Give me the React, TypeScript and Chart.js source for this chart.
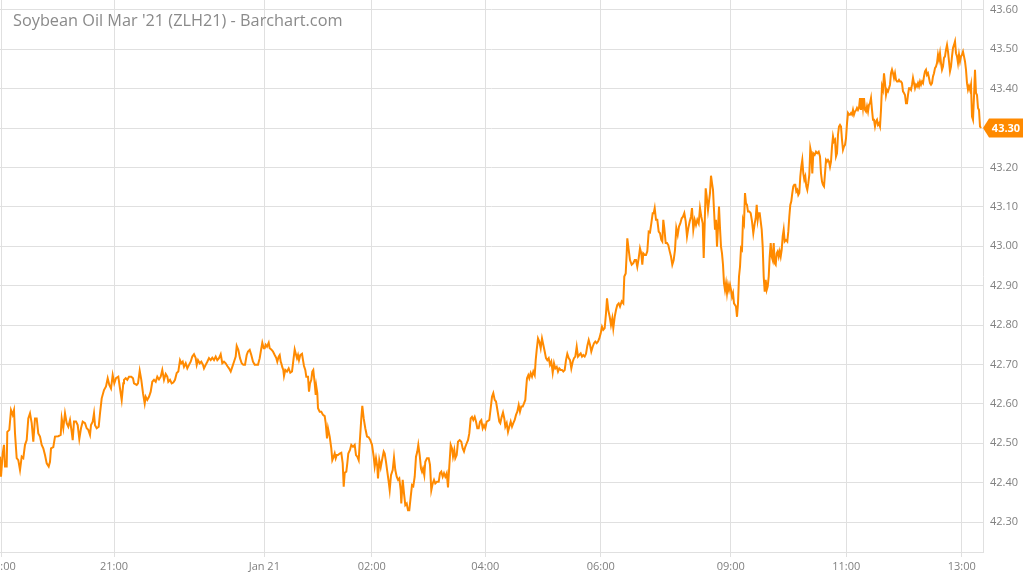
import { useEffect, useRef } from "react";
import { Chart, registerables } from "chart.js";

Chart.register(...registerables);

const chartTitle = "Soybean Oil Mar '21 (ZLH21) - Barchart.com";

// bar position of each trade bar (trading-session bar index, gaps compressed)
const barIndex: number[] = [
  0, 1, 2.7, 4, 5, 6.7, 7.3, 9.3, 11, 12.7, 14, 15, 16.7, 18.3, 20, 21.7, 23.3, 25, 26.7, 28.3,
  30, 31.7, 33.3, 35, 36.7, 38.3, 40, 41.7, 43.3, 45, 46.7, 48.7, 50, 51, 53.3, 55, 58.3, 60.7, 61.7, 63.3,
  65, 66.7, 68.3, 70, 71.7, 72.7, 74, 76, 77.7, 79.3, 81, 82.7, 85, 86.7, 88.3, 90, 91, 92.7, 94, 95,
  96.7, 98.7, 100, 101.7, 104, 106, 107.7, 109.3, 111, 112.7, 114.3, 116, 118.3, 120, 121.7, 123.3,
  124, 125.7, 127.3, 129, 131.3, 133, 134, 136.7, 138, 139.7, 141.3, 143, 144.7, 145.7, 147.3, 149, 150.7, 152.3, 154, 155.7,
  157.3, 159, 160.7, 162.3, 164, 165.7, 167.3, 168.3, 170, 171.7, 173.3, 175, 176.7, 178.3, 180, 181.3, 182.7, 184, 185.7, 187.3,
  189, 190.7, 192.3, 194, 195.7, 196.7, 198, 199.7, 201.3, 203, 204, 205.7, 207.3, 209, 210.7, 212.3, 214, 215.7, 217.3, 219,
  220.7, 222.3, 224, 225.7, 227.3, 229, 230.7, 232.3, 234, 235.7, 236.7, 238.3, 240, 241.7, 243.3, 245, 246.7,
  248, 249.7, 251.3, 253, 254.7, 256.3, 258, 259.7, 261.3, 262.3, 263.7, 264.7, 265.7, 267, 268.7, 269.7, 271.3, 273, 274.7, 276.3,
  277.3, 278.7, 279.7, 280.7, 281.3, 282.3, 283.3, 284, 285.3, 287, 288.7, 290.3, 292, 293, 294.7, 295.7, 297, 298, 299, 300.3,
  302, 303, 304, 305.3, 306.3, 308, 309, 310, 311.3, 312.3, 313.3, 314.7, 315.7, 316.3, 317.3, 318, 319.7, 321.3, 323, 324.7,
  325.7, 327, 328, 329.7, 331.3, 332.3, 333.7, 334.7, 335.7, 336.7, 338, 339.7, 341.3, 342.7, 343.7, 344.7, 346.3, 347.3, 348.3, 350,
  351.3, 353, 354.7, 356, 357.3, 358.7, 359.7, 361.3, 362.3, 363.7, 365.3, 367, 368.7, 370.3,
  372, 373.7, 374.7, 376, 377.3, 378, 379.3, 380.7, 382, 383.7, 384.7, 386, 387.3, 388.7, 389.7, 391, 392.7, 394, 395.3, 396.7,
  398, 399.3, 400.7, 401.3, 402.7, 404, 405.3, 406.7, 408, 409.3, 410.7, 412, 413.3, 414.7, 416, 417.3, 418.3, 419.7, 421, 422,
  423, 424.3, 425.3, 427, 428.7, 430, 431.3, 432.7, 434, 435.3, 437, 438.7, 440, 441.3, 442.7, 444, 445.3, 446.7, 448, 449.3,
  450.7, 452, 453, 454.3, 455.3, 456.7, 458, 459.7, 461.3, 462.7, 464, 465.3, 466.7, 468, 469.3, 470.7, 472, 473.3, 474.7, 476,
  477.3, 478.7, 480, 481.3, 482.7, 484, 485.3, 486.7, 488, 489.3, 490.7, 492, 493.3, 494.7,
  496, 497.7, 499.3, 500.3, 501.7, 503, 504.3, 505.3, 506.7, 508, 509.3, 510.7, 512, 513.3, 514.7, 516, 517.3, 518.7, 520, 521.3,
  522.7, 524, 525.3, 526, 527, 528.3, 529.3, 530.7, 532, 533.3, 534.7, 535.7, 536.7, 538, 539.3, 540.7, 542, 543.3, 544.7, 546,
  547.3, 548.7, 550, 551.3, 552.7, 554, 555.3, 556.7, 558, 559.3, 560.7, 562, 563.3, 564.7, 566, 567.3, 568.7, 570, 571.3, 572.7,
  574, 575.3, 576.7, 578, 579.3, 580.7, 582, 583.3, 584.7, 586, 587.3, 588.7, 590, 591.3, 592.7, 594, 595.3, 596.7, 598, 599.3,
  600.7, 602, 603.3, 604.7, 606, 607, 608.3, 609.7, 611, 612.3, 613.3, 614.7, 616, 617.3, 618.7,
  620, 621.7, 623.3, 624.3, 625.7, 626.7, 627.3, 628.7, 630, 631.7, 633.3, 634.7, 636, 637.3, 638.7, 640, 641.3, 642.3, 643.3, 644.7,
  646, 647.3, 648.7, 650, 651.3, 652.7, 653.7, 654.7, 656, 657.3, 658.7, 660, 661.3, 662.3, 663.3, 664.3, 665.7, 667, 668.3, 669.7,
  671, 672.3, 673.7, 675, 676.3, 677.7, 679, 680.3, 681.7, 683, 684.3, 685.7, 687, 688.3, 689.7, 691, 692, 693.3, 694.7, 696,
  697.3, 698.7, 700, 701.3, 702.7, 703.7, 704.7, 705.7, 706.7, 708, 709, 710, 711, 712, 713, 714, 715, 716, 717, 718,
  719, 720, 721, 722, 723, 724, 725, 726, 727, 728, 729, 730, 731, 732, 733, 734, 735, 736, 737, 738,
  739, 740, 741, 742, 743,
  744, 745, 746, 747, 748, 749.3, 750.7, 752, 753.3, 754.7, 755.7, 756.7, 757.7, 758.7, 759.7, 760.7, 761.7, 762.7, 763.7, 764.7,
  765.7, 766.7, 767.7, 768.7, 769.7, 770.7, 771.7, 772.7, 773.7, 774.7, 775.7, 776.7, 777.7, 778.7, 779.7, 780.7, 781.7, 782.7, 783.7, 784.7,
  786, 787.3, 788.3, 789.3, 790.3, 791.3, 792.3, 793.3, 794.3, 795.3, 796.3, 797.3, 798.3, 799.3, 800.3, 801.3, 802.3, 803.3, 804.3, 805.3,
  806.3, 807.3, 808.3, 809.3, 810.3, 811.3, 812.3, 813.3, 814.7, 816, 817.3, 818.7, 820, 821, 822, 823, 824, 825, 826, 827,
  828, 829, 830, 831, 832, 833, 834, 835, 836, 837, 838, 839, 840, 841, 842, 843, 844, 845, 846, 847,
  848, 849, 850, 851, 852, 853, 854, 855, 856, 857, 858, 859,
  860, 861, 862, 863, 864, 865, 866, 867, 868, 869, 870, 871, 872, 873, 874, 875, 876, 877, 878, 879,
  880, 881, 882, 883, 884, 885, 886, 887, 888, 889, 890, 891, 892, 893, 894, 895, 896, 897, 898, 899,
  900, 901, 902, 903, 904, 905, 906, 907, 908, 909, 910, 911, 912, 913, 914, 915, 916, 917, 918, 919,
  920, 921, 922, 923, 924, 925, 926, 927, 928, 929, 930, 931, 932, 933, 934, 935, 936, 937, 938, 939,
  940, 941, 942, 943, 944, 945, 946, 947, 948, 949, 950, 951, 952, 953, 954, 955, 956, 957, 958, 959,
  960, 961, 962, 963, 964, 965, 966, 967, 968, 969, 970, 971, 972, 973, 974, 975, 976, 977, 978, 979,
  980, 981,
];

// price of each bar (cents per pound)
const price: number[] = [
  42.466, 42.415, 42.474, 42.496, 42.441, 42.441, 42.529, 42.534, 42.584, 42.572, 42.584, 42.525, 42.462, 42.457, 42.432, 42.466, 42.462, 42.496, 42.508, 42.563,
  42.576, 42.551, 42.504, 42.563, 42.563, 42.525, 42.517, 42.496, 42.487, 42.470, 42.449, 42.441, 42.453, 42.487, 42.490, 42.517, 42.518, 42.521, 42.563, 42.538,
  42.576, 42.551, 42.542, 42.559, 42.529, 42.508, 42.555, 42.555, 42.546, 42.511, 42.538, 42.555, 42.551, 42.538, 42.534, 42.521, 42.546, 42.555, 42.576, 42.546,
  42.538, 42.542, 42.576, 42.614, 42.635, 42.644, 42.665, 42.648, 42.639, 42.673, 42.652, 42.665, 42.669, 42.639, 42.610, 42.652,
  42.661, 42.665, 42.661, 42.669, 42.669, 42.665, 42.652, 42.648, 42.652, 42.684, 42.661, 42.627, 42.601, 42.618, 42.610, 42.618, 42.631, 42.656, 42.661, 42.656,
  42.669, 42.662, 42.669, 42.686, 42.661, 42.676, 42.669, 42.656, 42.661, 42.652, 42.654, 42.661, 42.678, 42.682, 42.711, 42.703, 42.707, 42.694, 42.703, 42.690,
  42.699, 42.707, 42.720, 42.726, 42.716, 42.699, 42.711, 42.703, 42.707, 42.699, 42.690, 42.699, 42.707, 42.716, 42.711, 42.717, 42.711, 42.720, 42.711, 42.716,
  42.726, 42.703, 42.707, 42.703, 42.696, 42.690, 42.682, 42.694, 42.707, 42.720, 42.747, 42.737, 42.716, 42.703, 42.699, 42.699, 42.724,
  42.733, 42.737, 42.724, 42.707, 42.699, 42.699, 42.699, 42.716, 42.741, 42.755, 42.741, 42.741, 42.750, 42.745, 42.755, 42.741, 42.738, 42.733, 42.724, 42.716,
  42.707, 42.720, 42.724, 42.707, 42.703, 42.693, 42.686, 42.671, 42.686, 42.682, 42.690, 42.679, 42.682, 42.703, 42.738, 42.728, 42.716, 42.724, 42.711, 42.724,
  42.727, 42.711, 42.696, 42.686, 42.669, 42.669, 42.631, 42.652, 42.661, 42.682, 42.686, 42.652, 42.623, 42.644, 42.627, 42.589, 42.580, 42.580, 42.572, 42.569,
  42.551, 42.512, 42.538, 42.517, 42.487, 42.457, 42.466, 42.474, 42.462, 42.470, 42.470, 42.474, 42.476, 42.449, 42.390, 42.425, 42.428, 42.449, 42.474, 42.483,
  42.496, 42.491, 42.496, 42.470, 42.466, 42.457, 42.500, 42.563, 42.595, 42.563, 42.538, 42.517, 42.515, 42.508,
  42.496, 42.466, 42.441, 42.462, 42.441, 42.411, 42.457, 42.439, 42.457, 42.479, 42.474, 42.453, 42.428, 42.402, 42.381, 42.419, 42.432, 42.464, 42.432, 42.415,
  42.407, 42.411, 42.381, 42.347, 42.407, 42.373, 42.343, 42.347, 42.330, 42.330, 42.364, 42.394, 42.391, 42.415, 42.466, 42.479, 42.496, 42.470, 42.436, 42.428,
  42.436, 42.419, 42.453, 42.462, 42.462, 42.445, 42.381, 42.398, 42.407, 42.398, 42.402, 42.402, 42.424, 42.428, 42.415, 42.424, 42.415, 42.424, 42.388, 42.441,
  42.496, 42.487, 42.466, 42.483, 42.462, 42.470, 42.504, 42.508, 42.504, 42.487, 42.479, 42.491, 42.500, 42.508, 42.525, 42.563, 42.567, 42.559, 42.567, 42.555,
  42.538, 42.538, 42.555, 42.559, 42.538, 42.546, 42.538, 42.555, 42.557, 42.559, 42.589, 42.618, 42.627, 42.610,
  42.606, 42.580, 42.555, 42.551, 42.567, 42.578, 42.563, 42.542, 42.551, 42.529, 42.542, 42.555, 42.542, 42.551, 42.559, 42.572, 42.580, 42.597, 42.580, 42.593,
  42.593, 42.601, 42.610, 42.635, 42.665, 42.673, 42.665, 42.678, 42.669, 42.682, 42.673, 42.711, 42.737, 42.766, 42.758, 42.741, 42.766, 42.750, 42.733, 42.716,
  42.711, 42.716, 42.699, 42.707, 42.679, 42.703, 42.690, 42.694, 42.682, 42.690, 42.686, 42.686, 42.682, 42.686, 42.711, 42.727, 42.716, 42.711, 42.690, 42.707,
  42.716, 42.720, 42.745, 42.720, 42.724, 42.728, 42.720, 42.724, 42.720, 42.727, 42.747, 42.762, 42.750, 42.733, 42.745, 42.754, 42.758, 42.754, 42.758, 42.766,
  42.779, 42.796, 42.788, 42.792, 42.830, 42.868, 42.838, 42.821, 42.800, 42.817, 42.792, 42.821, 42.838, 42.851, 42.855,
  42.847, 42.860, 42.855, 42.923, 42.931, 42.982, 43.020, 42.991, 42.965, 42.953, 42.957, 42.965, 42.965, 42.948, 42.970, 42.995, 42.982, 42.953, 42.982, 42.978,
  42.978, 42.987, 43.037, 43.035, 43.058, 43.084, 43.084, 43.097, 43.067, 43.067, 43.037, 43.033, 43.016, 43.012, 43.067, 43.046, 43.008, 43.008, 43.003, 42.987,
  42.974, 42.953, 42.965, 42.991, 43.046, 43.029, 43.050, 43.058, 43.071, 43.075, 43.084, 43.063, 43.025, 43.046, 43.063, 43.075, 43.097, 43.042, 43.067, 43.054,
  43.067, 43.058, 43.097, 43.075, 43.058, 42.970, 43.058, 43.147, 43.126, 43.092, 43.114, 43.135, 43.179, 43.160, 43.143, 43.092, 43.042, 43.067, 42.999, 43.046,
  43.101, 43.046, 42.999, 42.982, 42.953, 42.906, 42.889, 42.906, 42.881, 42.902, 42.889, 42.902, 42.889, 42.872, 42.881, 42.855, 42.851, 42.847, 42.821, 42.855,
  42.923, 42.948, 42.995, 42.991, 43.067,
  43.058, 43.135, 43.109, 43.105, 43.088, 43.088, 43.084, 43.063, 43.033, 43.058, 43.071, 43.105, 43.067, 43.084, 43.084, 43.063, 43.042, 42.999, 42.923, 42.885,
  42.915, 42.889, 42.898, 42.923, 42.974, 43.008, 42.974, 42.965, 43.008, 42.957, 42.953, 42.982, 42.987, 42.974, 42.987, 42.974, 42.991, 43.025, 43.042, 43.012,
  43.016, 43.012, 43.037, 43.075, 43.105, 43.114, 43.135, 43.152, 43.156, 43.156, 43.139, 43.143, 43.130, 43.135, 43.177, 43.202, 43.219, 43.185, 43.169, 43.177,
  43.152, 43.143, 43.160, 43.181, 43.249, 43.236, 43.185, 43.236, 43.232, 43.240, 43.236, 43.240, 43.228, 43.185, 43.164, 43.156, 43.152, 43.185, 43.219, 43.215,
  43.219, 43.215, 43.202, 43.215, 43.253, 43.279, 43.266, 43.270, 43.228, 43.236, 43.283, 43.304, 43.308, 43.304, 43.270, 43.245, 43.253, 43.257, 43.274, 43.312,
  43.338, 43.334, 43.334, 43.338, 43.334, 43.346, 43.334, 43.342, 43.345, 43.351, 43.346, 43.351,
  43.376, 43.346, 43.376, 43.351, 43.376, 43.346, 43.342, 43.355, 43.342, 43.359, 43.363, 43.376, 43.346, 43.321, 43.321, 43.304, 43.317, 43.321, 43.308, 43.312,
  43.304, 43.346, 43.406, 43.397, 43.439, 43.414, 43.384, 43.397, 43.393, 43.401, 43.410, 43.439, 43.448, 43.439, 43.427, 43.439, 43.422, 43.418, 43.418, 43.422,
  43.418, 43.418, 43.414, 43.393, 43.389, 43.384, 43.363, 43.363, 43.384, 43.401, 43.401, 43.397, 43.410, 43.427, 43.414, 43.401, 43.410, 43.406, 43.414, 43.406,
  43.418, 43.410, 43.418, 43.414, 43.431, 43.444, 43.448, 43.435, 43.439, 43.427, 43.414, 43.410, 43.414, 43.431, 43.439, 43.452, 43.456, 43.465, 43.486, 43.473,
  43.490, 43.465, 43.448, 43.456, 43.478, 43.482, 43.499, 43.511, 43.494, 43.469, 43.444, 43.456, 43.482, 43.503, 43.511, 43.520, 43.490, 43.482, 43.465, 43.486,
  43.469, 43.482, 43.486, 43.494, 43.482, 43.469, 43.448, 43.414, 43.397, 43.406, 43.397, 43.410, 43.329, 43.321, 43.380, 43.448, 43.389, 43.384, 43.351, 43.346,
  43.304, 43.30,
];

const timeTickBars = [1.7, 114, 264.3, 371.7, 485.3, 600.7, 730.7, 846.3, 961.7];
const timeTickLabels = ["20:00", "21:00", "Jan 21", "02:00", "04:00", "06:00", "09:00", "11:00", "13:00"];
const priceTicks = [42.3, 42.4, 42.5, 42.6, 42.7, 42.8, 42.9, 43.0, 43.1, 43.2, 43.3, 43.4, 43.5, 43.6];
const lastPrice = 43.3;

const ORANGE = "#ff8a00";
const GRID = "#e0e0e0";
const FONT = "'Open Sans', 'Noto Sans', sans-serif";

const lastPriceTag = {
  id: "lastPriceTag",
  afterDraw(chart: any) {
    const { ctx, chartArea, scales } = chart;
    const y = scales.y.getPixelForValue(lastPrice);
    const x0 = chartArea.right;
    const x1 = chart.width - 1;
    ctx.save();
    ctx.fillStyle = ORANGE;
    ctx.beginPath();
    ctx.moveTo(x0, y);
    ctx.lineTo(x0 + 6, y - 9.5);
    ctx.lineTo(x1, y - 9.5);
    ctx.lineTo(x1, y + 9.5);
    ctx.lineTo(x0 + 6, y + 9.5);
    ctx.closePath();
    ctx.fill();
    ctx.fillStyle = "#ffffff";
    ctx.font = `bold 11px ${FONT}`;
    ctx.textAlign = "center";
    ctx.textBaseline = "middle";
    ctx.fillText(lastPrice.toFixed(2), (x0 + 6 + x1) / 2, y + 0.5);
    ctx.restore();
  },
};

export default function App() {
  const ref = useRef<HTMLCanvasElement | null>(null);

  useEffect(() => {
    if (!ref.current) return;
    const chart = new Chart(ref.current, {
      type: "line",
      data: {
        datasets: [
          {
            data: barIndex.map((b, i) => ({ x: b, y: price[i] })),
            borderColor: ORANGE,
            borderWidth: 2,
            pointRadius: 0,
            tension: 0,
            fill: false,
          },
        ],
      },
      options: {
        animation: false,
        responsive: false,
        layout: { padding: 0, autoPadding: false },
        plugins: {
          legend: { display: false },
          tooltip: { enabled: false },
          title: { display: false },
        },
        scales: {
          x: {
            type: "linear",
            min: 0,
            max: 983,
            afterBuildTicks: (s: any) => {
              s.ticks = timeTickBars.map((v) => ({ value: v }));
            },
            afterFit: (s: any) => {
              s.height = 24;
              s.paddingLeft = 0;
              s.paddingRight = 0;
            },
            ticks: {
              autoSkip: false,
              maxRotation: 0,
              color: "#808080",
              font: { family: FONT, size: 11 },
              padding: 3,
              callback: (_v: any, i: number) => timeTickLabels[i],
            },
            grid: { color: GRID, tickLength: 5, drawTicks: true },
            border: { color: GRID },
          },
          y: {
            position: "right",
            min: 42.224,
            max: 43.625,
            afterBuildTicks: (s: any) => {
              s.ticks = priceTicks.map((v) => ({ value: v }));
            },
            afterFit: (s: any) => {
              s.width = 41;
              s.paddingTop = 0;
              s.paddingBottom = 0;
            },
            ticks: {
              color: "#808080",
              font: { family: FONT, size: 11 },
              padding: 7,
              callback: (v: any) => Number(v).toFixed(2),
            },
            grid: { color: GRID, drawTicks: false },
            border: { color: GRID },
          },
        },
      } as any,
      plugins: [lastPriceTag],
    });
    return () => chart.destroy();
  }, []);

  return (
    <div style={{ position: "absolute", left: 0, top: 0, width: 1024, height: 576, background: "#ffffff", overflow: "hidden" }}>
      <canvas ref={ref} width={1024} height={576} style={{ display: "block", width: 1024, height: 576 }} />
      <div
        style={{
          position: "absolute",
          left: 13,
          top: 12,
          fontFamily: FONT,
          fontSize: 16.3,
          lineHeight: "16px",
          color: "#8a8a8a",
          whiteSpace: "nowrap",
          pointerEvents: "none",
        }}
      >
        {chartTitle}
      </div>
    </div>
  );
}
